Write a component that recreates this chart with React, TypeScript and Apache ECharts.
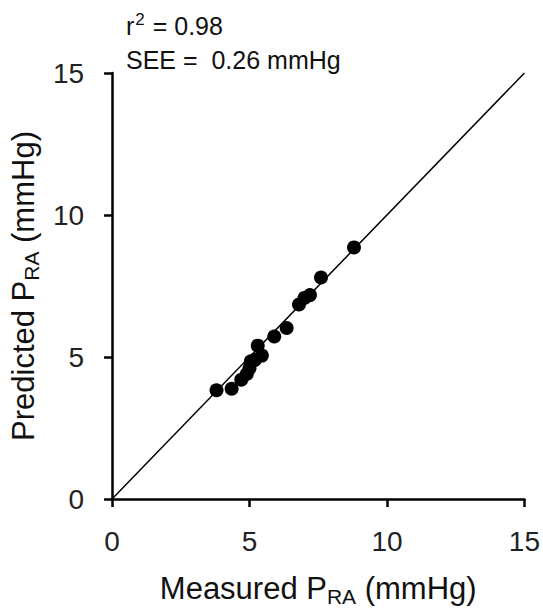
import React, { useEffect, useRef } from "react";
import * as echarts from "echarts";

const measured = [3.8, 4.35, 4.7, 4.9, 5.0, 5.05, 5.2, 5.45, 5.3, 5.9, 6.35, 6.8, 7.0, 7.2, 7.6, 8.8];
const predicted = [3.83, 3.88, 4.2, 4.4, 4.6, 4.85, 4.9, 5.05, 5.4, 5.72, 6.02, 6.85, 7.08, 7.18, 7.8, 8.86];
const identity = [[0, 0], [15, 15]];
const axisMin = 0;
const axisMax = 15;
const tickStep = 5;
const annotations = ["{b|r}{sup|2}{b| = 0.98}", "{b|SEE =  0.26 mmHg}"];

const FONT = "'Liberation Sans', Arial, sans-serif";

export default function App() {
  const ref = useRef<HTMLDivElement>(null);
  useEffect(() => {
    if (!ref.current) return;
    const chart = echarts.init(ref.current, null, { renderer: "svg" });
    const points = measured.map((m, i) => [m, predicted[i]]);
    const nameRich = {
      base: { fontSize: 31, fontFamily: FONT, color: "#111", lineHeight: 37 },
      sub: { fontSize: 21, fontFamily: FONT, color: "#111", lineHeight: 21, verticalAlign: "bottom" },
    };
    const annRich = {
      b: { fontSize: 25, fontFamily: FONT, fill: "#111", color: "#111", lineHeight: 29 },
      sup: { fontSize: 17, fontFamily: FONT, fill: "#111", color: "#111", lineHeight: 17, verticalAlign: "top", padding: [0, 1, 0, 1] },
    };
    const axisCommon = {
      type: "value",
      min: axisMin,
      max: axisMax,
      interval: tickStep,
      nameLocation: "middle",
      splitLine: { show: false },
      axisLine: { show: true, onZero: false, lineStyle: { color: "#000", width: 2.5 } },
      axisTick: { show: true, inside: false, length: 8, lineStyle: { color: "#000", width: 2.5 } },
      axisLabel: { fontSize: 28, fontFamily: FONT, color: "#222" },
    };
    chart.setOption({
      animation: false,
      backgroundColor: "#fff",
      grid: { left: 110, right: 18, top: 73, bottom: 109, containLabel: false },
      xAxis: {
        ...axisCommon,
        name: "{base|Measured P}{sub|RA}{base| (mmHg)}",
        nameGap: 71,
        nameTextStyle: { rich: nameRich },
        axisLabel: { ...axisCommon.axisLabel, margin: 28 },
      },
      yAxis: {
        ...axisCommon,
        name: "{base|Predicted P}{sub|RA}{base| (mmHg)}",
        nameGap: 60,
        nameTextStyle: { rich: nameRich },
        axisLabel: { ...axisCommon.axisLabel, margin: 28 },
      },
      graphic: [
        {
          type: "text",
          left: 126,
          top: 11,
          style: { text: annotations[0], rich: annRich, fill: "#111" },
        },
        {
          type: "text",
          left: 126,
          top: 47,
          style: { text: annotations[1], rich: annRich, fill: "#111" },
        },
      ],
      series: [
        {
          type: "line",
          data: identity,
          symbol: "none",
          lineStyle: { color: "#000", width: 1.5 },
          z: 1,
        },
        {
          type: "scatter",
          data: points,
          symbol: "circle",
          symbolSize: 14,
          itemStyle: { color: "#000", opacity: 1 },
          z: 2,
        },
      ],
    });
    return () => chart.dispose();
  }, []);
  return (
    <div
      ref={ref}
      style={{ position: "absolute", left: 0, top: 0, width: 543, height: 612, background: "#fff" }}
    />
  );
}
